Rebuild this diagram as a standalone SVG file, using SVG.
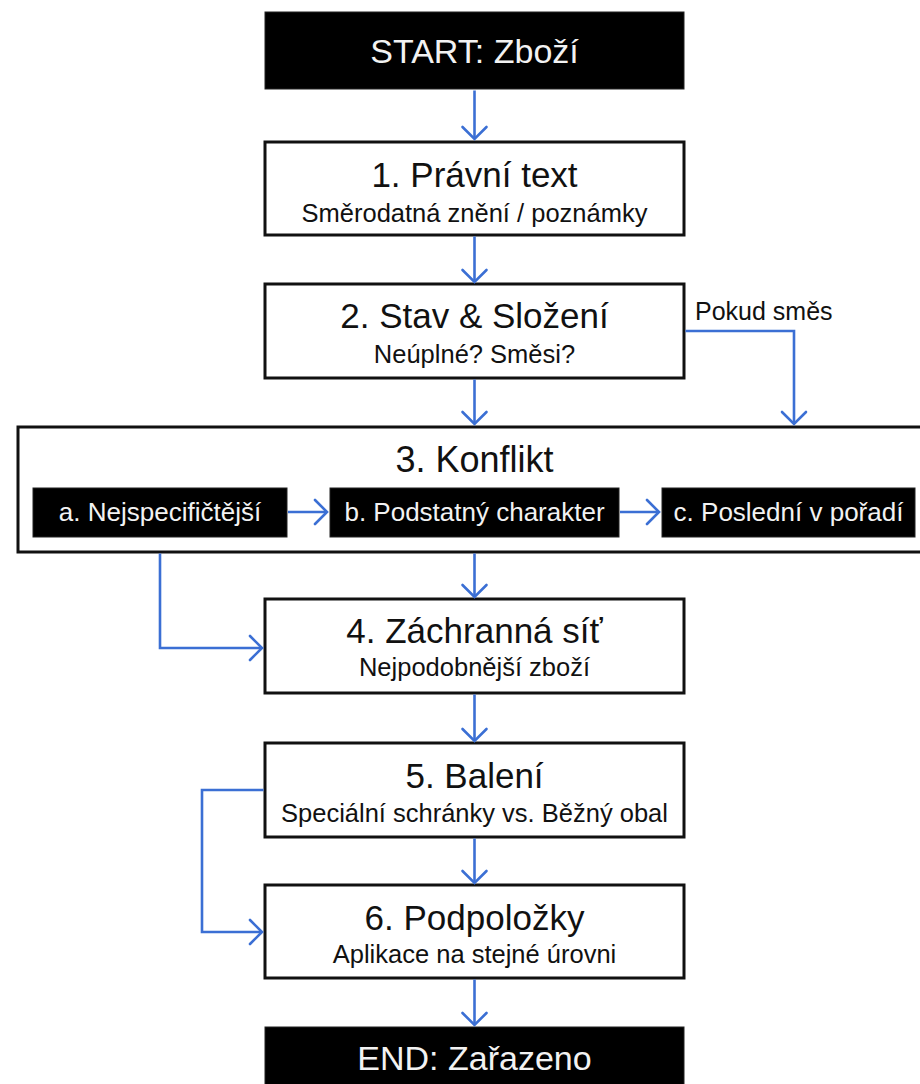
<svg xmlns="http://www.w3.org/2000/svg" width="920" height="1084" viewBox="0 0 920 1084">
  <defs>
    <marker id="arr" markerUnits="userSpaceOnUse" markerWidth="30" markerHeight="30" viewBox="-15 -15 30 30" refX="0" refY="0" orient="auto">
      <path d="M-12,-12 L0,0 L-12,12" fill="none" stroke="#3b6fd4" stroke-width="2.6" stroke-linecap="round" stroke-linejoin="miter"/>
    </marker>
    <style>
      text { font-family: "Liberation Sans", Arial, sans-serif; text-anchor: middle; }
      .box { fill: #ffffff; stroke: #111111; stroke-width: 3; }
      .dark { fill: #000000; stroke: #222222; stroke-width: 1; }
      .title { font-size: 35px; fill: #111111; }
      .sub { font-size: 25.5px; fill: #111111; }
      .term { font-size: 34px; fill: #f2f2f2; }
      .step { font-size: 26px; fill: #f2f2f2; }
      .lbl { font-size: 25px; fill: #111111; text-anchor: start; }
      .conn { fill: none; stroke: #3b6fd4; stroke-width: 2.6; marker-end: url(#arr); }
    </style>
  </defs>
  <rect width="920" height="1084" fill="#ffffff"/>

  <g id="start">
    <rect class="dark" x="265" y="12" width="419" height="77"/>
    <text class="term" x="474.5" y="63">START: Zboží</text>
  </g>

  <g id="step1">
    <rect class="box" x="265" y="142" width="419" height="93"/>
    <text class="title" x="474.5" y="187">1. Právní text</text>
    <text class="sub" x="474.5" y="222">Směrodatná znění / poznámky</text>
  </g>

  <g id="step2">
    <rect class="box" x="265" y="284" width="419" height="94"/>
    <text class="title" x="474.5" y="328">2. Stav &amp; Složení</text>
    <text class="sub" x="474.5" y="363">Neúplné? Směsi?</text>
  </g>

  <g id="label-pokud">
    <text class="lbl" x="695" y="320">Pokud směs</text>
  </g>

  <g id="step3">
    <rect class="box" x="18" y="427" width="920" height="125"/>
    <text class="title" x="474.5" y="472" style="font-size:36px">3. Konflikt</text>
  </g>

  <g id="step3a">
    <rect class="dark" x="33" y="488" width="254" height="49"/>
    <text class="step" x="160" y="521">a. Nejspecifičtější</text>
  </g>

  <g id="step3b">
    <rect class="dark" x="330" y="488" width="289" height="49"/>
    <text class="step" x="474.5" y="521">b. Podstatný charakter</text>
  </g>

  <g id="step3c">
    <rect class="dark" x="662" y="488" width="253" height="49"/>
    <text class="step" x="788.5" y="521">c. Poslední v pořadí</text>
  </g>

  <g id="step4">
    <rect class="box" x="265" y="599" width="419" height="94"/>
    <text class="title" x="474.5" y="643">4. Záchranná síť</text>
    <text class="sub" x="474.5" y="676">Nejpodobnější zboží</text>
  </g>

  <g id="step5">
    <rect class="box" x="265" y="743" width="419" height="94"/>
    <text class="title" x="474.5" y="788">5. Balení</text>
    <text class="sub" x="474.5" y="822">Speciální schránky vs. Běžný obal</text>
  </g>

  <g id="step6">
    <rect class="box" x="265" y="885" width="419" height="93"/>
    <text class="title" x="474.5" y="930">6. Podpoložky</text>
    <text class="sub" x="474.5" y="963">Aplikace na stejné úrovni</text>
  </g>

  <g id="end">
    <rect class="dark" x="265" y="1027" width="419" height="70"/>
    <text class="term" x="474.5" y="1070">END: Zařazeno</text>
  </g>

  <g id="connectors">
    <path class="conn" d="M474.5,90.5 V139"/>
    <path class="conn" d="M474.5,236.5 V282"/>
    <path class="conn" d="M474.5,379.5 V424"/>
    <path class="conn" d="M685.5,331 H794 V424"/>
    <path class="conn" d="M288,512 H327"/>
    <path class="conn" d="M620,512 H659"/>
    <path class="conn" d="M474.5,553.5 V597"/>
    <path class="conn" d="M160,553.5 V648 H262"/>
    <path class="conn" d="M474.5,694.5 V741"/>
    <path class="conn" d="M263.5,790 H202 V932 H262"/>
    <path class="conn" d="M474.5,838.5 V883"/>
    <path class="conn" d="M474.5,979.5 V1025"/>
  </g>
</svg>
